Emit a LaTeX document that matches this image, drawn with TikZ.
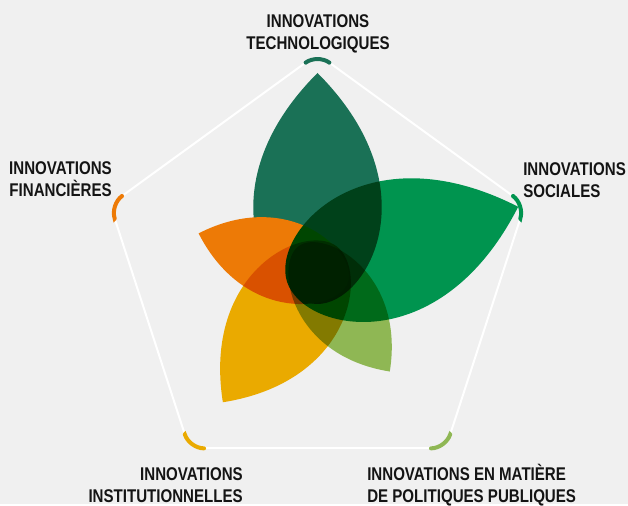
\documentclass[tikz,border=0pt]{standalone}
\usepackage{fontspec}
\setmainfont{Liberation Sans}[FakeStretch=0.82]
\usetikzlibrary{calc}
\usepackage{xcolor}
\definecolor{bg}{HTML}{F0F0F0}
\definecolor{techno}{HTML}{1A7156}
\definecolor{sociale}{HTML}{00944F}
\definecolor{politique}{HTML}{8FB754}
\definecolor{institution}{HTML}{EAAA00}
\definecolor{finance}{HTML}{ED7A06}
\definecolor{ink}{HTML}{141414}

% one petal: angle, length, colour
\newcommand{\petal}[3]{%
  \fill[#3, shift={(C)}, rotate=#1] (-32,0)
    .. controls (-32,{0.25*#2}) and ({0.42*#2},{0.58*#2}) .. (#2,0)
    .. controls ({0.42*#2},{-0.58*#2}) and (-32,{-0.25*#2}) .. cycle;}

\begin{document}
\begin{tikzpicture}[x=0.75pt,y=0.75pt]
        \tikzstyle{edge} = [draw=white, line width=1.5pt]
        \tikzstyle{corner} = [line width=3pt, line cap=round, rounded corners=11pt]
        \tikzstyle{label} = [font=\bfseries\fontsize{13.8}{16.5}\selectfont, text=ink, inner sep=0pt]

        \fill[bg] (0,0) rectangle (628,504);

        % pentagon
        \coordinate (C) at (317.5,232);
        \foreach \name/\ang in {tech/90, soc/18, pol/-54, inst/-126, fin/162}
          \coordinate (\name) at ($(C)+(\ang:218)$);
        \foreach \a/\b in {tech/soc, soc/pol, pol/inst, inst/fin, fin/tech}
          \draw[edge] ($(\a)!12pt!(\b)$) -- ($(\b)!12pt!(\a)$);

        % petals
        \begin{scope}[transparency group]
          \petal{90}{199}{techno}
          \petal{162}{125}{finance}
          \begin{scope}[blend mode=multiply]
            \petal{18}{211}{sociale}
            \petal{306}{123}{politique}
            \petal{234}{161}{institution}
          \end{scope}
        \end{scope}

        % coloured corners
        \foreach \v/\p/\n/\col in {tech/fin/soc/techno, soc/tech/pol/sociale, pol/soc/inst/politique, inst/pol/fin/institution, fin/inst/tech/finance}
          \draw[corner, \col] ($(\v)!11pt!(\p)$) -- (\v) -- ($(\v)!11pt!(\n)$);

        \node[label, align=center, anchor=base] (techlbl) at (318,454) {INNOVATIONS\\TECHNOLOGIQUES};
        \node[label, align=left, anchor=base west] (soclbl) at (523,306) {INNOVATIONS\\SOCIALES};
        \node[label, align=right, anchor=base east] (finlbl) at (112,307) {INNOVATIONS\\FINANCIÈRES};
        \node[label, align=right, anchor=base east] (instlbl) at (243,2) {INNOVATIONS\\INSTITUTIONNELLES};
        \node[label, align=left, anchor=base west] (pollbl) at (367,2) {INNOVATIONS EN MATIÈRE\\DE POLITIQUES PUBLIQUES};
\end{tikzpicture}
\end{document}
